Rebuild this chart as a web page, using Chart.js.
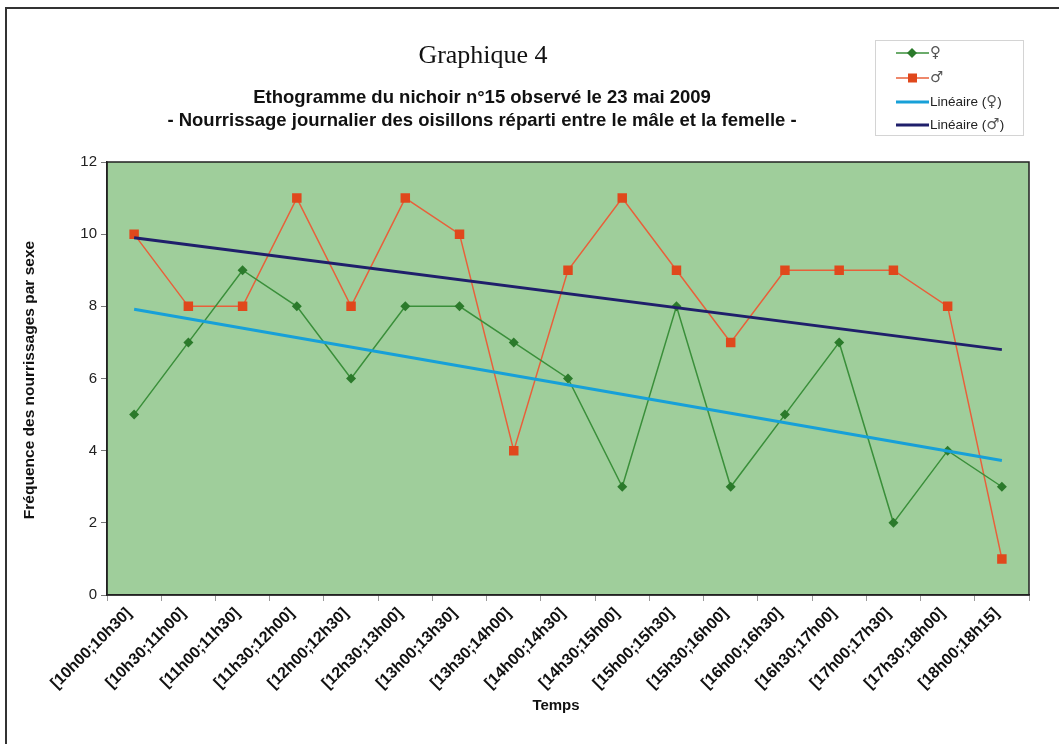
<!DOCTYPE html>
<html>
<head>
<meta charset="utf-8">
<script src="https://cdn.jsdelivr.net/npm/chart.js@4"></script>
<style>
  html, body { margin: 0; padding: 0; background: #fff; }
  #wrap { width: 1059px; height: 744px; }
</style>
</head>
<body>
<div id="wrap"><canvas id="chart" width="1059" height="744"></canvas></div>
<script>
const timeSlots = [
  '[10h00;10h30]', '[10h30;11h00]', '[11h00;11h30]', '[11h30;12h00]',
  '[12h00;12h30]', '[12h30;13h00]', '[13h00;13h30]', '[13h30;14h00]',
  '[14h00;14h30]', '[14h30;15h00]', '[15h00;15h30]', '[15h30;16h00]',
  '[16h00;16h30]', '[16h30;17h00]', '[17h00;17h30]', '[17h30;18h00]',
  '[18h00;18h15]'
];
const femaleCounts = [5, 7, 9, 8, 6, 8, 8, 7, 6, 3, 8, 3, 5, 7, 2, 4, 3];
const maleCounts = [10, 8, 8, 11, 8, 11, 10, 4, 9, 11, 9, 7, 9, 9, 9, 8, 1];
// trend line end values (first slot, last slot)
const femaleTrend = [7.92, 3.73];
const maleTrend = [9.9, 6.8];
const yTicks = [0, 2, 4, 6, 8, 10, 12];

const FONT = "'Liberation Sans', Arial, 'DejaVu Sans', sans-serif";
const SYMBOL_FONT = "15px 'DejaVu Sans', sans-serif";

// trend lines only have their two ends, gaps spanned
const endsOnly = (ends) => timeSlots.map((_, i) =>
  i === 0 ? ends[0] : (i === timeSlots.length - 1 ? ends[1] : null));

const decorPlugin = {
  id: 'decor',
  beforeDraw(chart) {
    const { ctx, chartArea: a } = chart;
    ctx.save();
    ctx.fillStyle = '#9fce9b';
    ctx.fillRect(a.left, a.top, a.right - a.left, a.bottom - a.top);
    ctx.restore();
  },
  afterDraw(chart) {
    const { ctx, chartArea: a } = chart;
    ctx.save();
    // plot border
    ctx.strokeStyle = '#222';
    ctx.lineWidth = 1.5;
    ctx.strokeRect(a.left, a.top, a.right - a.left, a.bottom - a.top);

    // outer frame (top and left only visible)
    ctx.strokeStyle = '#333';
    ctx.lineWidth = 2;
    ctx.beginPath();
    ctx.moveTo(6, 744);
    ctx.lineTo(6, 8);
    ctx.lineTo(1059, 8);
    ctx.stroke();

    // titles
    ctx.fillStyle = '#111';
    ctx.textAlign = 'center';
    ctx.textBaseline = 'middle';
    ctx.font = "26px 'Liberation Serif', 'Times New Roman', serif";
    ctx.fillText('Graphique 4', 483, 56);
    ctx.font = 'bold 18.5px ' + FONT;
    ctx.fillText('Ethogramme du nichoir n°15 observé le 23 mai 2009', 482, 98);
    ctx.fillText('- Nourrissage journalier des oisillons réparti entre le mâle et la femelle -', 482, 121);

    // axis titles
    ctx.font = 'bold 15px ' + FONT;
    ctx.fillText('Temps', 556, 706);
    ctx.font = 'bold 15.5px ' + FONT;
    ctx.translate(30, 380);
    ctx.rotate(-Math.PI / 2);
    ctx.fillText('Fréquence des nourrissages par sexe', 0, 0);
    ctx.restore();

    // legend
    ctx.save();
    ctx.strokeStyle = '#d4d4d4';
    ctx.lineWidth = 1;
    ctx.strokeRect(875.5, 40.5, 148, 95);
    const rows = [
      { y: 53, color: '#3a8f3a', width: 1.5, marker: 'diamond', mcolor: '#2b7a2b', text: '', sym: '♀' },
      { y: 78, color: '#e8603a', width: 1.5, marker: 'square', mcolor: '#e0481c', text: '', sym: '♂' },
      { y: 102, color: '#17a0d8', width: 3, text: 'Linéaire (', sym: '♀' },
      { y: 125, color: '#1f1f6b', width: 3, text: 'Linéaire (', sym: '♂' },
    ];
    rows.forEach(r => {
      ctx.strokeStyle = r.color;
      ctx.lineWidth = r.width;
      ctx.beginPath();
      ctx.moveTo(896, r.y);
      ctx.lineTo(929, r.y);
      ctx.stroke();
      ctx.fillStyle = r.mcolor;
      if (r.marker === 'diamond') {
        ctx.beginPath();
        ctx.moveTo(912, r.y - 5);
        ctx.lineTo(917, r.y);
        ctx.lineTo(912, r.y + 5);
        ctx.lineTo(907, r.y);
        ctx.closePath();
        ctx.fill();
      } else if (r.marker === 'square') {
        ctx.fillRect(908, r.y - 4.5, 9, 9);
      }
      ctx.textAlign = 'left';
      ctx.textBaseline = 'middle';
      let x = 930;
      if (r.text) {
        ctx.fillStyle = '#222';
        ctx.font = '13.5px ' + FONT;
        ctx.fillText(r.text, x, r.y);
        x += ctx.measureText(r.text).width;
      }
      ctx.fillStyle = '#555';
      ctx.font = SYMBOL_FONT;
      ctx.fillText(r.sym, x, r.y);
      x += ctx.measureText(r.sym).width;
      if (r.text) {
        ctx.fillStyle = '#222';
        ctx.font = '13.5px ' + FONT;
        ctx.fillText(')', x, r.y);
      }
    });
    ctx.restore();
  }
};

new Chart(document.getElementById('chart').getContext('2d'), {
  type: 'line',
  data: {
    labels: timeSlots,
    datasets: [
      {
        label: '♀',
        data: femaleCounts,
        borderColor: '#3a8f3a',
        borderWidth: 1.5,
        pointStyle: 'rectRot',
        pointRadius: 5,
        pointBackgroundColor: '#2b7a2b',
        pointBorderColor: '#2b7a2b',
        pointBorderWidth: 0,
        tension: 0,
        order: 2,
      },
      {
        label: '♂',
        data: maleCounts,
        borderColor: '#e8603a',
        borderWidth: 1.5,
        pointStyle: 'rect',
        pointRadius: 6.7,
        pointBackgroundColor: '#e0481c',
        pointBorderColor: '#e0481c',
        pointBorderWidth: 0,
        tension: 0,
        order: 2,
      },
      {
        label: 'Linéaire (♀)',
        data: endsOnly(femaleTrend),
        borderColor: '#17a0d8',
        borderWidth: 3,
        pointRadius: 0,
        spanGaps: true,
        order: 1,
      },
      {
        label: 'Linéaire (♂)',
        data: endsOnly(maleTrend),
        borderColor: '#1f1f6b',
        borderWidth: 3,
        pointRadius: 0,
        spanGaps: true,
        order: 1,
      },
    ],
  },
  options: {
    responsive: false,
    animation: false,
    layout: { padding: { left: 0, top: 162, right: 30, bottom: 0 } },
    plugins: {
      legend: { display: false },
      title: { display: false },
      tooltip: { enabled: false },
    },
    scales: {
      x: {
        offset: true,
        grid: {
          offset: true,
          drawOnChartArea: false,
          drawTicks: true,
          tickLength: 6,
          color: '#9a9a9a',
        },
        border: { display: true, color: '#222', width: 1.5 },
        ticks: {
          color: '#111',
          font: { family: FONT, size: 16, weight: 'bold' },
          maxRotation: 45,
          minRotation: 45,
          autoSkip: false,
          padding: 3,
          labelOffset: -5,
        },
        afterFit(scale) { scale.height = 149; },
      },
      y: {
        min: 0,
        max: 12,
        afterBuildTicks(scale) { scale.ticks = yTicks.map(v => ({ value: v })); },
        grid: {
          drawOnChartArea: false,
          drawTicks: true,
          tickLength: 6,
          color: '#777',
        },
        border: { display: true, color: '#222', width: 1.5 },
        ticks: {
          color: '#222',
          font: { family: FONT, size: 15 },
          padding: 4,
        },
        afterFit(scale) { scale.width = 107; },
      },
    },
  },
  plugins: [decorPlugin],
});
</script>
</body>
</html>
